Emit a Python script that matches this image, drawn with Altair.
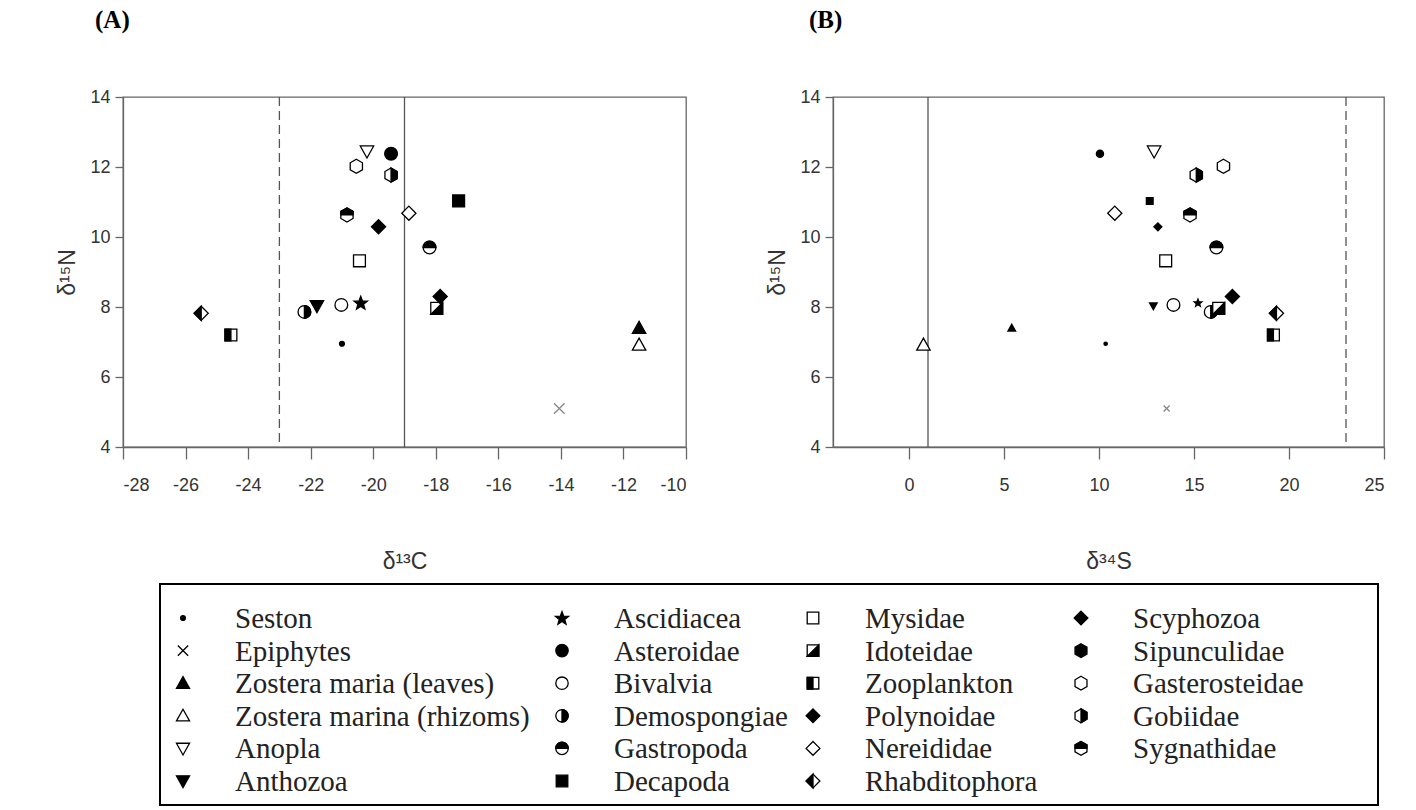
import math
import altair as alt
import pandas as pd

# ---------------- data ----------------
species = ["Seston", "Epiphytes", "Zostera maria (leaves)", "Zostera marina (rhizoms)", "Anopla", "Anthozoa",
           "Ascidiacea", "Asteroidae", "Bivalvia", "Demospongiae", "Gastropoda", "Decapoda",
           "Mysidae", "Idoteidae", "Zooplankton", "Polynoidae", "Nereididae", "Rhabditophora",
           "Scyphozoa", "Sipunculidae", "Gasterosteidae", "Gobiidae", "Sygnathidae"]
d13C = [-21.0, -14.05, -11.5, -11.5, -20.2, -21.8,
        -20.4, -19.43, -21.02, -22.2, -18.2, -17.27,
        -20.44, -17.97, -24.55, -19.83, -18.86, -25.5,
        -17.86, None, -20.54, -19.43, -20.84]
d34S = [10.35, 13.56, 5.41, 0.76, 12.9, 12.86,
        15.21, 10.05, 13.92, 15.88, 16.18, 12.67,
        13.51, 16.3, 19.18, 13.1, 10.83, 19.34,
        17.02, None, 16.55, 15.12, 14.79]
d15N = [6.95, 5.10, 7.40, 6.92, 12.45, 8.03,
        8.12, 12.38, 8.06, 7.86, 9.70, 11.03,
        9.32, 7.96, 7.20, 10.29, 10.68, 7.82,
        8.30, None, 12.02, 11.77, 10.63]

c_lines = [-23, -19]      # dashed, solid
s_lines = [1, 23]         # solid, dashed
c_ticks = list(range(-28, -9, 2))
s_ticks = [0, 5, 10, 15, 20, 25]
n_ticks = [4, 6, 8, 10, 12, 14]

# ---------------- marker glyphs ----------------
def poly(pts):
    return "M" + "L".join(f"{x:.3f},{y:.3f}" for x, y in pts) + "Z"

h = 0.866
HEX = poly([(0, -1), (h, -0.5), (h, 0.5), (0, 1), (-h, 0.5), (-h, -0.5)])
HEX_R = poly([(0, -1), (h, -0.5), (h, 0.5), (0, 1)])
HEX_T = poly([(-h, 0), (-h, -0.5), (0, -1), (h, -0.5), (h, 0)])
q = 0.84
SQ = poly([(-q, -q), (q, -q), (q, q), (-q, q)])
SQ_L = poly([(-q, -q), (0, -q), (0, q), (-q, q)])
SQ_D = poly([(q, -q), (q, q), (-q, q)])
DIA = poly([(0, -1), (1, 0), (0, 1), (-1, 0)])
DIA_L = poly([(0, -1), (-1, 0), (0, 1)])
TRI_U = poly([(0, -0.95), (0.95, 0.75), (-0.95, 0.75)])
TRI_D = poly([(-0.95, -0.75), (0.95, -0.75), (0, 0.95)])
r = 0.9
CIRC = f"M{-r},0A{r},{r},0,1,1,{r},0A{r},{r},0,1,1,{-r},0Z"
CIRC_R = f"M0,{-r}A{r},{r},0,0,1,0,{r}Z"
CIRC_T = f"M{-r},0A{r},{r},0,0,1,{r},0Z"
STAR = poly([(math.cos(math.radians(-90 + 36 * k)) * (1 if k % 2 == 0 else 0.42),
              math.sin(math.radians(-90 + 36 * k)) * (1 if k % 2 == 0 else 0.42) + 0.08) for k in range(10)])
XMARK = "M-0.75,-0.75L0.75,0.75M-0.75,0.75L0.75,-0.75"

W, K, N = "white", "black", "transparent"
GLYPHS = {
    "dot": [(CIRC, K)], "x": [(XMARK, N)],
    "tri_up_f": [(TRI_U, K)], "tri_up_o": [(TRI_U, W)],
    "tri_dn_o": [(TRI_D, W)], "tri_dn_f": [(TRI_D, K)],
    "star": [(STAR, K)], "circ_f": [(CIRC, K)], "circ_o": [(CIRC, W)],
    "circ_r": [(CIRC, W), (CIRC_R, K)], "circ_t": [(CIRC, W), (CIRC_T, K)],
    "sq_f": [(SQ, K)], "sq_o": [(SQ, W)], "sq_d": [(SQ, W), (SQ_D, K)], "sq_l": [(SQ, W), (SQ_L, K)],
    "dia_f": [(DIA, K)], "dia_o": [(DIA, W)], "dia_l": [(DIA, W), (DIA_L, K)],
    "hex_f": [(HEX, K)], "hex_o": [(HEX, W)], "hex_r": [(HEX, W), (HEX_R, K)], "hex_t": [(HEX, W), (HEX_T, K)],
}
STYLE = ["dot", "x", "tri_up_f", "tri_up_o", "tri_dn_o", "tri_dn_f",
         "star", "circ_f", "circ_o", "circ_r", "circ_t", "sq_f",
         "sq_o", "sq_d", "sq_l", "dia_f", "dia_o", "dia_l",
         "dia_f", "hex_f", "hex_o", "hex_r", "hex_t"]
SMALL_IN_B = {"Epiphytes", "Zostera maria (leaves)", "Anthozoa", "Ascidiacea", "Asteroidae",
              "Decapoda", "Polynoidae"}


def marker_rows(i, sp, size, stroke):
    out = []
    for j, (path, fill) in enumerate(GLYPHS[STYLE[i]]):
        out.append(dict(species=sp, path=path, fill=fill, stroke=stroke, size=size, z=2 * i + j))
    return out


def panel_df(xs, panel):
    rows = []
    for i, sp in enumerate(species):
        if xs[i] is None:
            continue
        size = 200
        if panel == "B" and sp in SMALL_IN_B:
            size = 64
        if sp == "Seston":
            size = 30 if panel == "A" else 14
        stroke = "#888888" if sp == "Epiphytes" else K
        for row in marker_rows(i, sp, size, stroke):
            row.update(x=xs[i], y=d15N[i])
            rows.append(row)
    return pd.DataFrame(rows)


FONT = "Liberation Sans"
HYPHEN_LABEL = "datum.value < 0 ? '-' + abs(datum.value) : '' + datum.value"


def panel(xs, pname, domain, ticks, lines, dashed_idx, xtitle, width, title_dx):
    df = panel_df(xs, pname)
    xs_ = alt.Scale(domain=domain, nice=False, zero=False)
    ys_ = alt.Scale(domain=[4, 14], nice=False, zero=False)
    xax = alt.Axis(values=ticks, title=xtitle, titlePadding=56, labelPadding=17, tickSize=12,
                   labelExpr=HYPHEN_LABEL)
    yax = alt.Axis(values=n_ticks, title="δ¹⁵N", titlePadding=10, labelPadding=5, tickSize=8)
    ldf = pd.DataFrame({"x": lines, "dashed": [k == dashed_idx for k in range(len(lines))]})
    solid = alt.Chart(ldf).transform_filter("!datum.dashed").mark_rule(color="#555555", strokeWidth=1.3).encode(
        x=alt.X("x:Q", scale=xs_, axis=xax))
    dashed = alt.Chart(ldf).transform_filter("datum.dashed").mark_rule(
        color="#555555", strokeWidth=1.3, strokeDash=[9, 5]).encode(x=alt.X("x:Q", scale=xs_, axis=xax))
    pts = alt.Chart(df).mark_point(filled=True, opacity=1, strokeWidth=1.3).encode(
        x=alt.X("x:Q", scale=xs_, axis=xax),
        y=alt.Y("y:Q", scale=ys_, axis=yax),
        shape=alt.Shape("path:N", scale=None),
        fill=alt.Fill("fill:N", scale=None),
        stroke=alt.Stroke("stroke:N", scale=None),
        size=alt.Size("size:Q", scale=None),
        order=alt.Order("z:Q"),
    )
    return alt.layer(solid, dashed, pts).properties(
        width=width, height=350,
        title=alt.TitleParams(f"({pname})", anchor="start", frame="group", dx=title_dx, offset=55,
                              font="Liberation Serif", fontSize=25, fontWeight="bold", color="black"))


pA = panel(d13C, "A", [-28, -10], c_ticks, c_lines, 0, "δ¹³C", 563, -28)
pB = panel(d34S, "B", [-4, 25], s_ticks, s_lines, 1, "δ³⁴S", 551, -24)

# ---------------- legend ----------------
leg_rows = []
for i, sp in enumerate(species):
    size = 30 if sp == "Seston" else 190
    for row in marker_rows(i, sp, size, K):
        row.update(col=i // 6, row=i % 6)
        leg_rows.append(row)
leg_df = pd.DataFrame(leg_rows)
txt_df = pd.DataFrame({"species": species, "col": [i // 6 for i in range(len(species))],
                       "row": [i % 6 for i in range(len(species))]})
lx = alt.Scale(domain=[0, 1, 2, 3], range=[23, 402, 653, 921], zero=False, nice=False)
ly = alt.Scale(domain=[0, 5], range=[34, 197], zero=False, nice=False)
leg_pts = alt.Chart(leg_df).mark_point(filled=True, opacity=1, strokeWidth=1.3).encode(
    x=alt.X("col:Q", scale=lx, axis=None),
    y=alt.Y("row:Q", scale=ly, axis=None),
    shape=alt.Shape("path:N", scale=None),
    fill=alt.Fill("fill:N", scale=None),
    stroke=alt.Stroke("stroke:N", scale=None),
    size=alt.Size("size:Q", scale=None),
    order=alt.Order("z:Q"),
)
leg_txt = alt.Chart(txt_df).mark_text(align="left", baseline="middle", dx=52, dy=1, font="Liberation Serif",
                                      fontSize=29, color="#222222").encode(
    x=alt.X("col:Q", scale=lx, axis=None),
    y=alt.Y("row:Q", scale=ly, axis=None),
    text="species:N",
)
legend = alt.layer(leg_pts, leg_txt).properties(
    width=1218, height=221, view=alt.ViewBackground(stroke="black", strokeWidth=2))

spacer = alt.Chart(pd.DataFrame({"v": [0]})).mark_point(opacity=0).encode(
    x=alt.X("v:Q", axis=None), y=alt.Y("v:Q", axis=None)).properties(
    width=35, height=10, view=alt.ViewBackground(stroke="transparent"))

top = alt.hconcat(pA, pB, spacing=78)
bottom = alt.hconcat(spacer, legend, spacing=0)

chart = alt.vconcat(top, bottom, spacing=9).properties(
    padding={"left": 56, "top": 7, "right": 0, "bottom": 0}
).configure_view(stroke="#666666", strokeWidth=1.3).configure_axis(
    grid=False, labelFont=FONT, labelFontSize=18, labelColor="#333333",
    titleFont=FONT, titleFontSize=23, titleFontWeight="normal", titleColor="#333333",
    domainColor="#666666", tickColor="#666666", domainWidth=1.3, tickWidth=1.3
).configure_concat(spacing=0)

chart.save("out.html", embed_options={"renderer": "svg", "actions": False})
